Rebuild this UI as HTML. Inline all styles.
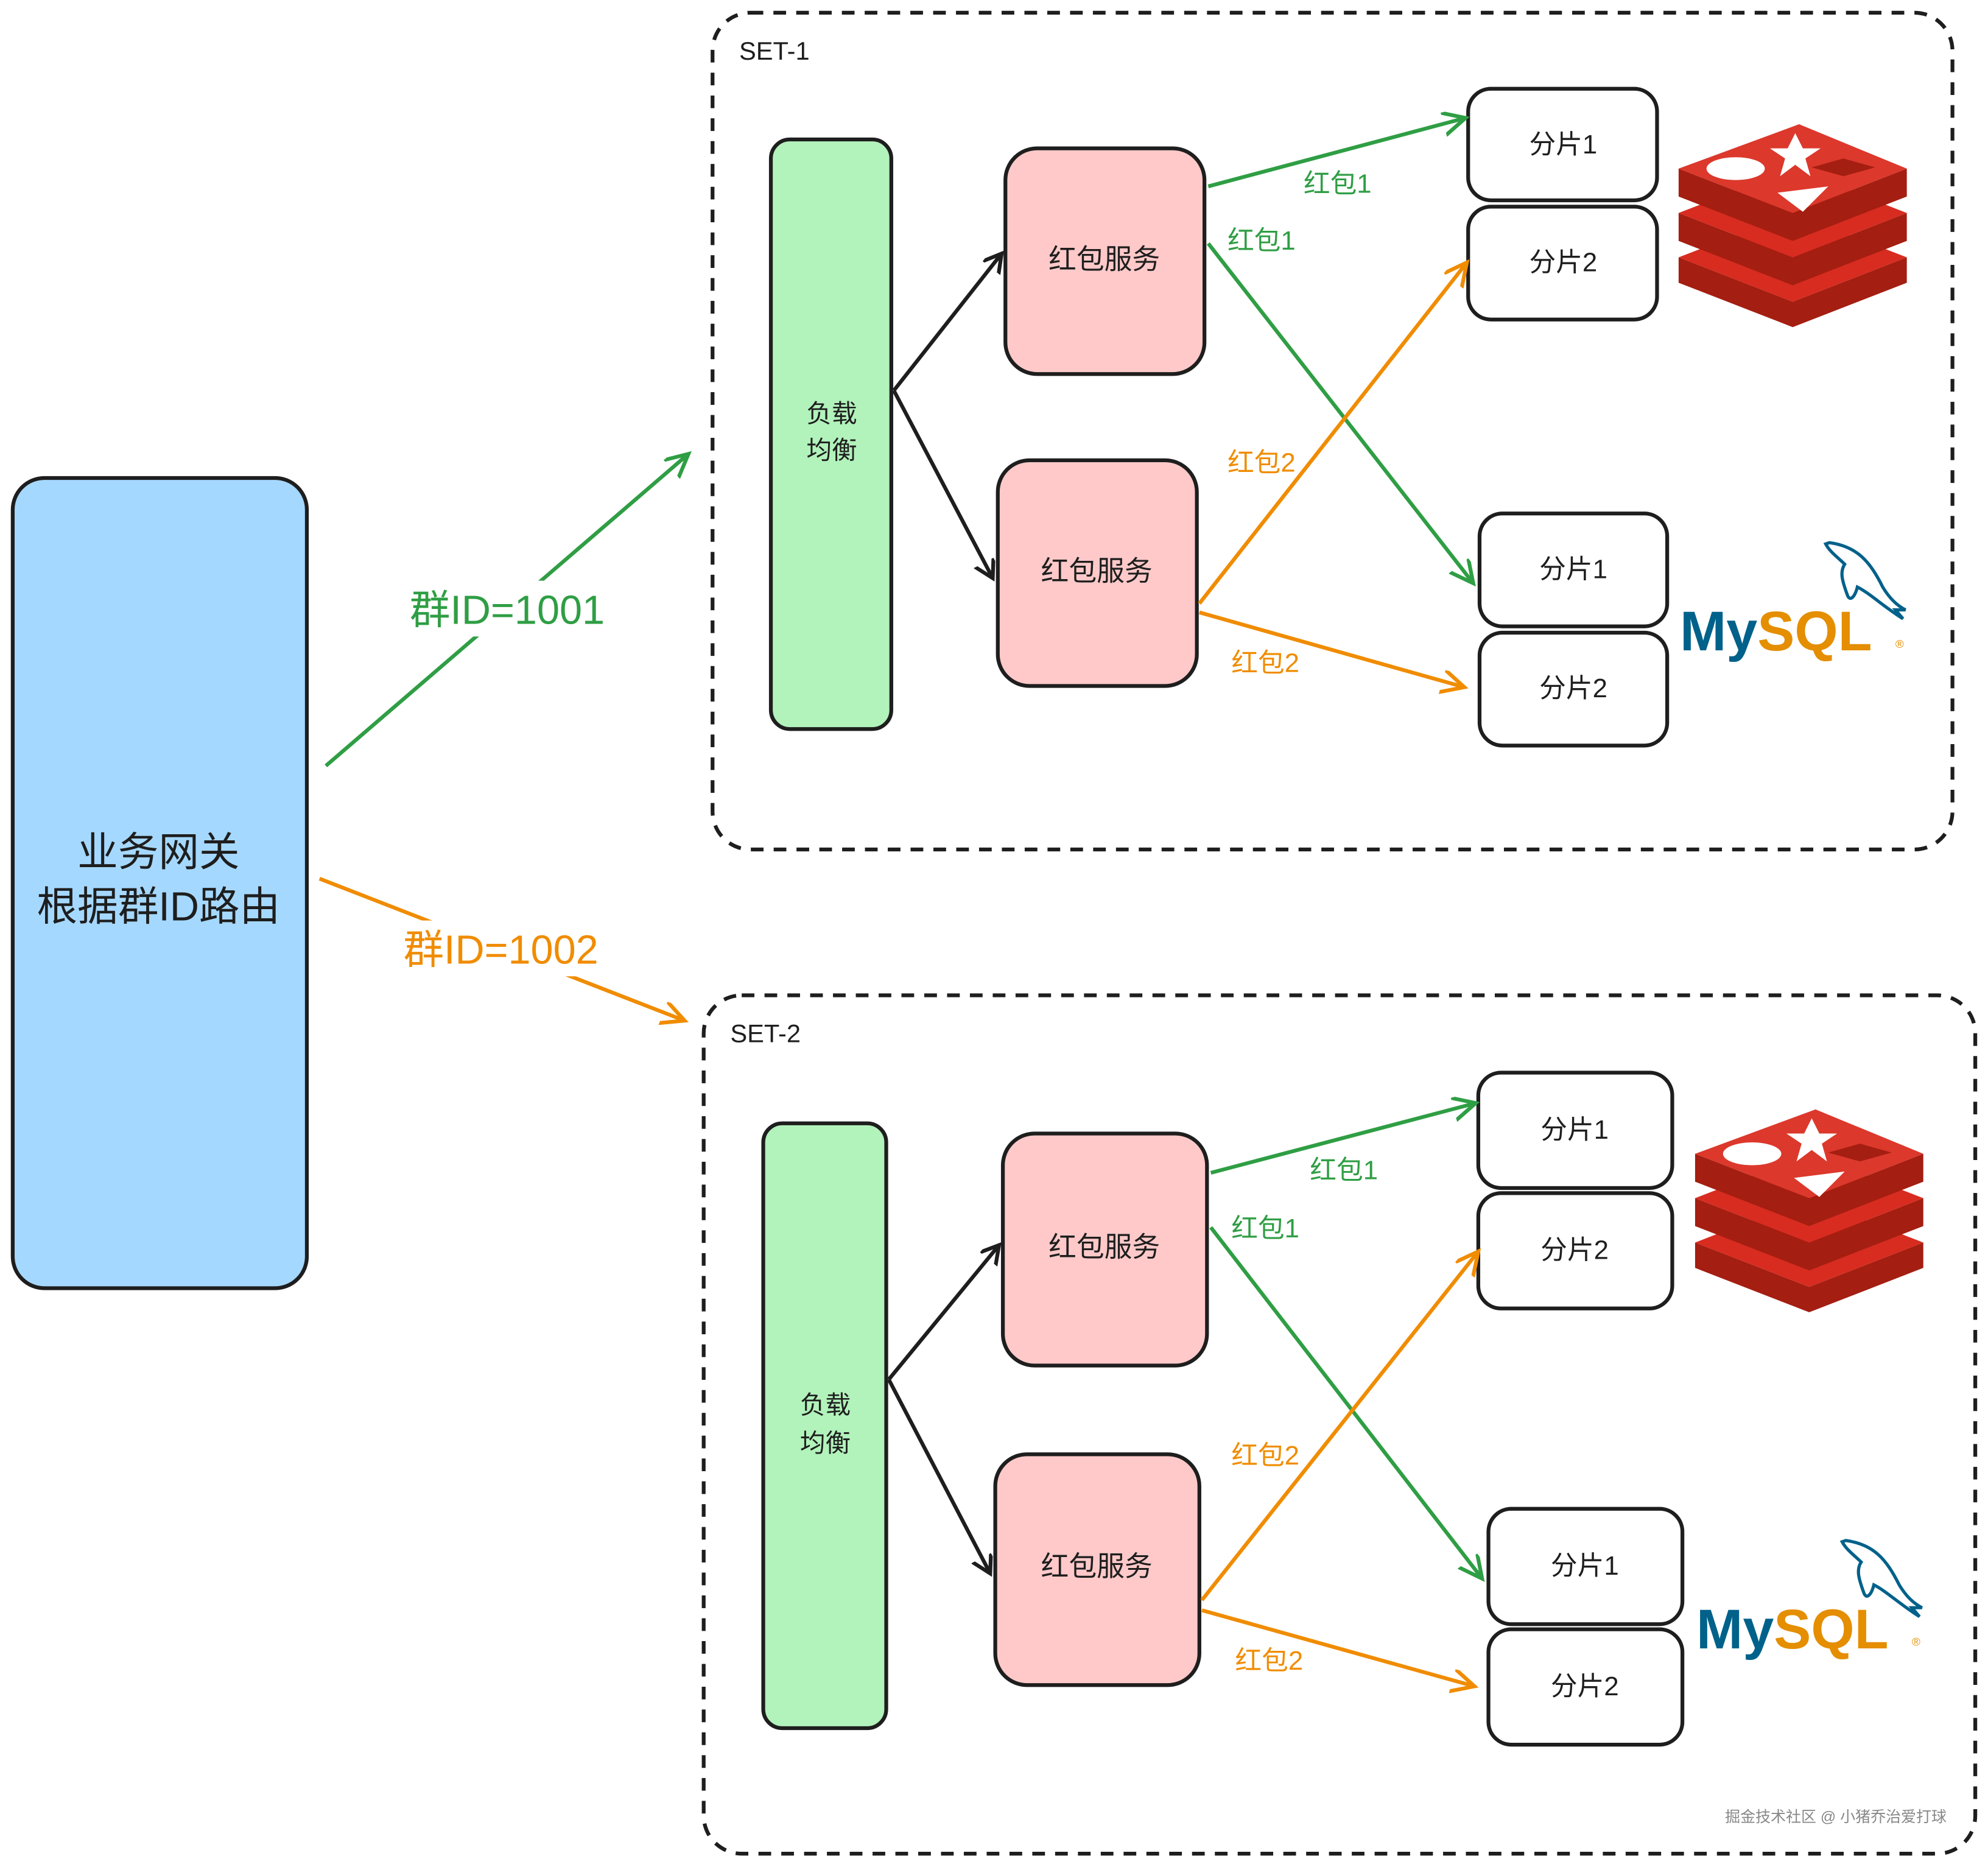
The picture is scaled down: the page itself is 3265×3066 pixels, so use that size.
<!DOCTYPE html>
<html><head><meta charset="utf-8"><style>
html,body{margin:0;padding:0;background:#fff;}
svg{display:block;}
text{font-family:"Liberation Sans","Noto Sans CJK SC",sans-serif;}
</style></head><body>
<svg width="3265" height="3066" viewBox="0 0 1568 1472.5" xmlns="http://www.w3.org/2000/svg">
<defs>
<marker id="ak" markerWidth="20" markerHeight="20" refX="14" refY="8" orient="auto" markerUnits="userSpaceOnUse"><path d="M0,0 L14,8 L0,16" fill="none" stroke="#1e1e1e" stroke-width="3" stroke-linecap="round"/></marker>
<marker id="ag" markerWidth="24" markerHeight="24" refX="18" refY="9" orient="auto" markerUnits="userSpaceOnUse"><path d="M0,0 L18,9 L0,18" fill="none" stroke="#2f9e44" stroke-width="3" stroke-linecap="round"/></marker>
<marker id="ao" markerWidth="24" markerHeight="24" refX="18" refY="9" orient="auto" markerUnits="userSpaceOnUse"><path d="M0,0 L18,9 L0,18" fill="none" stroke="#f08c00" stroke-width="3" stroke-linecap="round"/></marker>
<g id="redis">
<path d="M0,128 L90,163 L180,128 L180,108 L90,143 L0,108Z" fill="#a41e11"/>
<path d="M0,108 L90,73 L180,108 L90,143Z" fill="#d82c20"/>
<path d="M0,95 L90,130 L180,95 L180,73 L90,108 L0,73Z" fill="#a41e11"/>
<path d="M0,73 L90,38 L180,73 L90,108Z" fill="#d82c20"/>
<path d="M0,60 L90,95 L180,60 L180,38 L90,73 L0,38Z" fill="#a41e11"/>
<path d="M0,38 L95,3 L180,38 L90,73Z" fill="#dc382c"/>
<polygon points="92,10 98,22 112,22 100,30 104,44 92,35 80,44 84,30 72,22 86,22" fill="#fff"/>
<ellipse cx="45" cy="38" rx="23" ry="9" fill="#fff"/>
<polygon points="78,57 118,52 98,72" fill="#fff"/>
<polygon points="105,37 130,30 155,37 130,44" fill="#a41e11"/>
</g>
<g id="mysql">
<text x="0" y="90" font-size="44" font-weight="bold" fill="#00618a" font-family="Liberation Sans, sans-serif">My<tspan fill="#e48e00">SQL</tspan></text>
<text x="170" y="88" font-size="9" fill="#e48e00">®</text>
<path d="M118,5 C140,8 150,20 160,40 C166,50 172,55 178,58 L170,58 L176,65 C160,55 150,45 140,40 C138,48 134,52 132,46 C128,35 126,28 130,22 C125,17 118,12 115,6Z" fill="none" stroke="#00618a" stroke-width="2.5"/>
</g>
</defs>
<rect width="1568" height="1472.5" fill="#fff"/>

<!-- gateway -->
<rect x="10" y="377" width="232" height="639" rx="25" fill="#a5d8ff" stroke="#1e1e1e" stroke-width="3"/>
<text x="125" y="683" font-size="32" text-anchor="middle" fill="#1e1e1e">业务网关</text>
<text x="125" y="726" font-size="32" text-anchor="middle" fill="#1e1e1e">根据群ID路由</text>

<line x1="257" y1="604" x2="543" y2="358" stroke="#2f9e44" stroke-width="3" marker-end="url(#ag)"/>
<rect x="312" y="458" width="178" height="44" fill="#fff"/>
<text x="400" y="492" font-size="32" text-anchor="middle" fill="#2f9e44">群ID=1001</text>
<line x1="252" y1="693" x2="540" y2="805" stroke="#f08c00" stroke-width="3" marker-end="url(#ao)"/>
<rect x="305" y="726" width="180" height="44" fill="#fff"/>
<text x="395" y="760" font-size="32" text-anchor="middle" fill="#f08c00">群ID=1002</text>

<!-- SET-1 -->
<rect x="562" y="10" width="978" height="660" rx="30" fill="none" stroke="#1e1e1e" stroke-width="3" stroke-dasharray="10 8"/>
<text x="583" y="47" font-size="20" fill="#1e1e1e">SET-1</text>
<rect x="608" y="110" width="95" height="465" rx="15" fill="#b2f2bb" stroke="#1e1e1e" stroke-width="3"/>
<text x="656" y="333" font-size="20" text-anchor="middle" fill="#1e1e1e">负载</text>
<text x="656" y="362" font-size="20" text-anchor="middle" fill="#1e1e1e">均衡</text>
<rect x="793" y="117" width="157" height="178" rx="25" fill="#ffc9c9" stroke="#1e1e1e" stroke-width="3"/>
<text x="871" y="212" font-size="22" text-anchor="middle" fill="#1e1e1e">红包服务</text>
<rect x="787" y="363" width="157" height="178" rx="25" fill="#ffc9c9" stroke="#1e1e1e" stroke-width="3"/>
<text x="865" y="458" font-size="22" text-anchor="middle" fill="#1e1e1e">红包服务</text>
<line x1="705" y1="308" x2="790" y2="200" stroke="#1e1e1e" stroke-width="3" marker-end="url(#ak)"/>
<line x1="705" y1="308" x2="783" y2="456" stroke="#1e1e1e" stroke-width="3" marker-end="url(#ak)"/>
<rect x="1158" y="70" width="149" height="88" rx="18" fill="#fff" stroke="#1e1e1e" stroke-width="3"/>
<text x="1233" y="121" font-size="21" text-anchor="middle" fill="#1e1e1e">分片1</text>
<rect x="1158" y="163" width="149" height="89" rx="18" fill="#fff" stroke="#1e1e1e" stroke-width="3"/>
<text x="1233" y="214" font-size="21" text-anchor="middle" fill="#1e1e1e">分片2</text>
<rect x="1167" y="405" width="148" height="89" rx="18" fill="#fff" stroke="#1e1e1e" stroke-width="3"/>
<text x="1241" y="456" font-size="21" text-anchor="middle" fill="#1e1e1e">分片1</text>
<rect x="1167" y="499" width="148" height="89" rx="18" fill="#fff" stroke="#1e1e1e" stroke-width="3"/>
<text x="1241" y="550" font-size="21" text-anchor="middle" fill="#1e1e1e">分片2</text>
<line x1="953" y1="147" x2="1156" y2="93" stroke="#2f9e44" stroke-width="3" marker-end="url(#ag)"/>
<text x="1055" y="152" font-size="21" text-anchor="middle" fill="#2f9e44">红包1</text>
<line x1="953" y1="192" x2="1162" y2="460" stroke="#2f9e44" stroke-width="3" marker-end="url(#ag)"/>
<text x="995" y="197" font-size="21" text-anchor="middle" fill="#2f9e44">红包1</text>
<line x1="946" y1="476" x2="1157" y2="207" stroke="#f08c00" stroke-width="3" marker-end="url(#ao)"/>
<text x="995" y="372" font-size="21" text-anchor="middle" fill="#f08c00">红包2</text>
<line x1="946" y1="483" x2="1155" y2="542" stroke="#f08c00" stroke-width="3" marker-end="url(#ao)"/>
<text x="998" y="530" font-size="21" text-anchor="middle" fill="#f08c00">红包2</text>
<use href="#redis" transform="translate(1324,95)"/>
<use href="#mysql" transform="translate(1325,423)"/>

<!-- SET-2 -->
<rect x="555" y="785" width="1003" height="677" rx="30" fill="none" stroke="#1e1e1e" stroke-width="3" stroke-dasharray="10 8"/>
<text x="576" y="822" font-size="20" fill="#1e1e1e">SET-2</text>
<rect x="602" y="886" width="97" height="477" rx="15" fill="#b2f2bb" stroke="#1e1e1e" stroke-width="3"/>
<text x="651" y="1115" font-size="20" text-anchor="middle" fill="#1e1e1e">负载</text>
<text x="651" y="1145" font-size="20" text-anchor="middle" fill="#1e1e1e">均衡</text>
<rect x="791" y="894" width="161" height="183" rx="25" fill="#ffc9c9" stroke="#1e1e1e" stroke-width="3"/>
<text x="871" y="991" font-size="22" text-anchor="middle" fill="#1e1e1e">红包服务</text>
<rect x="785" y="1147" width="161" height="182" rx="25" fill="#ffc9c9" stroke="#1e1e1e" stroke-width="3"/>
<text x="865" y="1243" font-size="22" text-anchor="middle" fill="#1e1e1e">红包服务</text>
<line x1="701" y1="1088" x2="788" y2="982" stroke="#1e1e1e" stroke-width="3" marker-end="url(#ak)"/>
<line x1="701" y1="1088" x2="781" y2="1241" stroke="#1e1e1e" stroke-width="3" marker-end="url(#ak)"/>
<rect x="1166" y="846" width="153" height="91" rx="18" fill="#fff" stroke="#1e1e1e" stroke-width="3"/>
<text x="1242" y="898" font-size="21" text-anchor="middle" fill="#1e1e1e">分片1</text>
<rect x="1166" y="941" width="153" height="91" rx="18" fill="#fff" stroke="#1e1e1e" stroke-width="3"/>
<text x="1242" y="993" font-size="21" text-anchor="middle" fill="#1e1e1e">分片2</text>
<rect x="1174" y="1190" width="153" height="91" rx="18" fill="#fff" stroke="#1e1e1e" stroke-width="3"/>
<text x="1250" y="1242" font-size="21" text-anchor="middle" fill="#1e1e1e">分片1</text>
<rect x="1174" y="1285" width="153" height="91" rx="18" fill="#fff" stroke="#1e1e1e" stroke-width="3"/>
<text x="1250" y="1337" font-size="21" text-anchor="middle" fill="#1e1e1e">分片2</text>
<line x1="955" y1="925" x2="1164" y2="870" stroke="#2f9e44" stroke-width="3" marker-end="url(#ag)"/>
<text x="1060" y="930" font-size="21" text-anchor="middle" fill="#2f9e44">红包1</text>
<line x1="955" y1="968" x2="1169" y2="1245" stroke="#2f9e44" stroke-width="3" marker-end="url(#ag)"/>
<text x="998" y="976" font-size="21" text-anchor="middle" fill="#2f9e44">红包1</text>
<line x1="948" y1="1262" x2="1166" y2="987" stroke="#f08c00" stroke-width="3" marker-end="url(#ao)"/>
<text x="998" y="1155" font-size="21" text-anchor="middle" fill="#f08c00">红包2</text>
<line x1="948" y1="1270" x2="1163" y2="1330" stroke="#f08c00" stroke-width="3" marker-end="url(#ao)"/>
<text x="1001" y="1317" font-size="21" text-anchor="middle" fill="#f08c00">红包2</text>
<use href="#redis" transform="translate(1337,872)"/>
<use href="#mysql" transform="translate(1338,1210)"/>

<text x="1448" y="1437" font-size="12" text-anchor="middle" fill="#888">掘金技术社区 @ 小猪乔治爱打球</text>
</svg>
</body></html>
